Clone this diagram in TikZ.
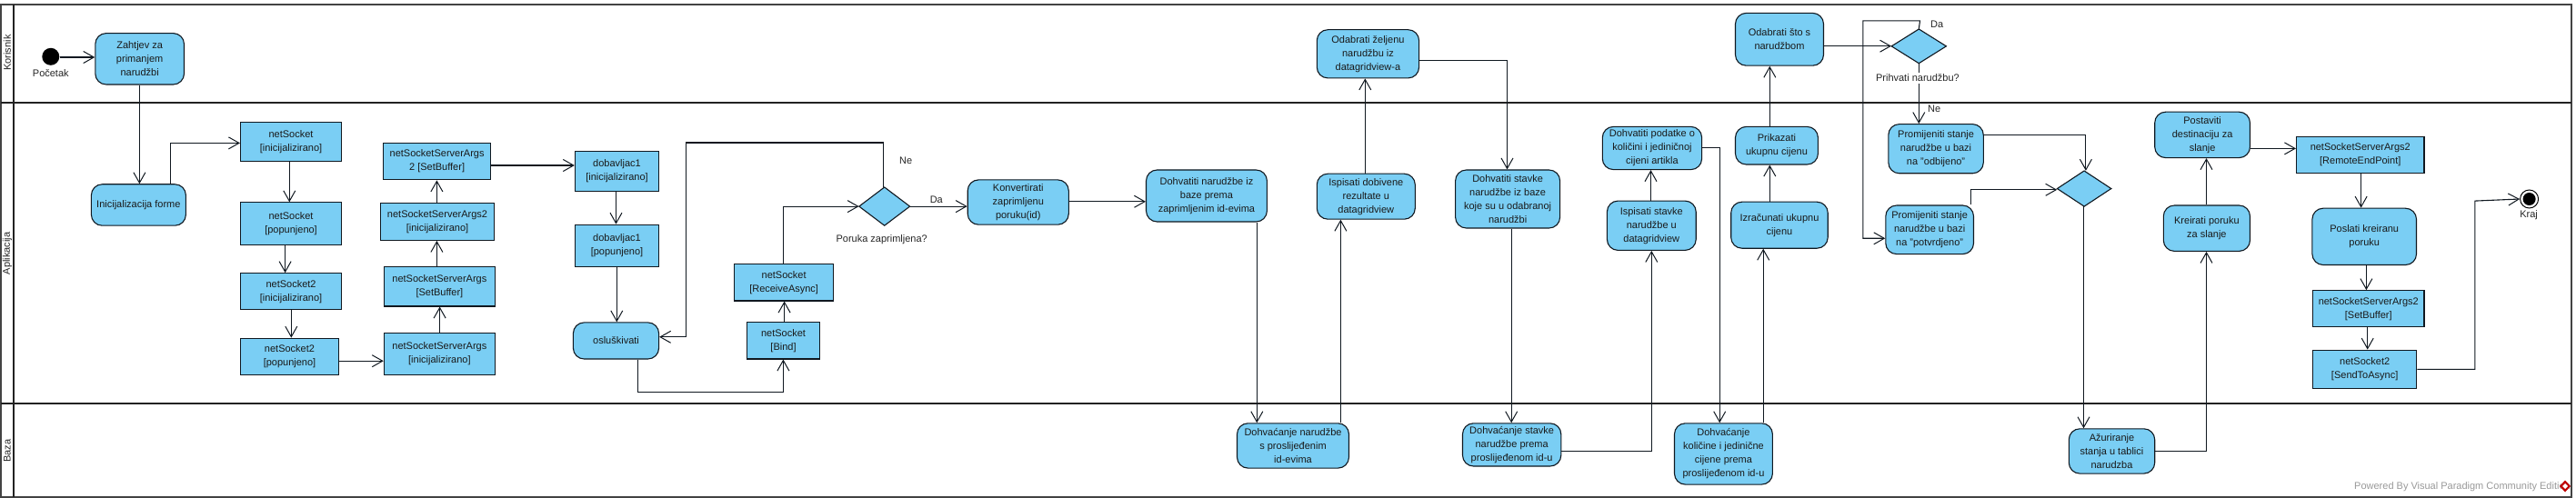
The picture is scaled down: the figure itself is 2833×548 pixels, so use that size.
\documentclass[tikz,border=0pt]{standalone}
\usepackage{fontspec}
\setmainfont{Liberation Sans}
\usetikzlibrary{arrows.meta,shapes.geometric,calc}
\definecolor{actfill}{HTML}{7ACEF4}
\definecolor{lineink}{HTML}{101820}
\definecolor{laneink}{HTML}{222222}
\tikzset{
  lane/.style={draw=laneink,line width=2pt},
  flow/.style={draw=lineink,line width=1.1pt,-{Straight Barb[length=11.5pt,width=13pt,line width=1pt]}},
  act/.style={draw=lineink,line width=1.1pt,fill=actfill,rounded corners=12pt,inner sep=0pt,align=center,font=\fontsize{11}{15}\selectfont,text=black!90},
  objbox/.style={draw=lineink,line width=1.1pt,fill=actfill,inner sep=0pt,align=center,font=\fontsize{11}{15}\selectfont,text=black!90},
  decis/.style={draw=lineink,line width=1.1pt,fill=actfill},
  lbl/.style={inner sep=0pt,font=\fontsize{11}{13}\selectfont,text=black!85},
}
% name, x1, y1, x2, y2, style, text
\newcommand{\boxnode}[7]{\node[#6,minimum width={(#4-#2)*1pt},minimum height={(#5-#3)*1pt}] (#1) at ({(#2+#4)/2},{(#3+#5)/2}) {#7};}
\newcommand{\dianode}[5]{\draw[decis] (#2,{(#3+#5)/2}) -- ({(#2+#4)/2},#3) -- (#4,{(#3+#5)/2}) -- ({(#2+#4)/2},#5) -- cycle;
  \node[inner sep=0pt,minimum width={(#4-#2)*1pt},minimum height={(#5-#3)*1pt}] (#1) at ({(#2+#4)/2},{(#3+#5)/2}) {};}
\begin{document}
\begin{tikzpicture}[x=1pt,y=-1pt]
\useasboundingbox (0,0) rectangle (2833,548);
\fill[white] (0,0) rectangle (2833,548);
% lanes
\coordinate (tl) at (1,4.6);
\coordinate (br) at (2828,546.5);
\draw[lane,laneink!85] (tl) rectangle (br);
\draw[lane] (1,113.4) -- (2828,113.4);
\draw[lane] (1,444.4) -- (2828,444.4);
\draw[lane] (15,4.6) -- (15,546.5);
\node[lbl,rotate=90] (lk) at (8,58) {Korisnik};
\node[lbl,rotate=90] (la) at (8,279) {Aplikacija};
\node[lbl,rotate=90] (lb) at (8,496) {Baza};
% start / end
\node[circle,fill=black,inner sep=0pt,minimum size=19pt] (start) at (55.8,62.3) {};
\node[lbl] (startl) at (55.8,80.6) {Početak};
\node[circle,draw=black,line width=1pt,fill=white,inner sep=0pt,minimum size=20pt] (endo) at (2781.6,219) {};
\node[circle,fill=black,inner sep=0pt,minimum size=14pt] (endi) at (2781.6,219) {};
\node[lbl] (endl) at (2781,237) {Kraj};
% nodes
\boxnode{zahtjev}{104.8}{36.6}{202.5}{93}{act}{Zahtjev za\\primanjem\\narudžbi}
\boxnode{inic}{100.4}{202.8}{204.4}{248.2}{act}{Inicijalizacija forme}
\boxnode{nsa}{264.5}{134.5}{375.6}{177.8}{objbox}{netSocket\\{[inicijalizirano]}}
\boxnode{nsb}{264.5}{222.9}{375.6}{269.7}{objbox}{netSocket\\{[popunjeno]}}
\boxnode{nsc}{264.5}{300.7}{375.6}{340.8}{objbox}{netSocket2\\{[inicijalizirano]}}
\boxnode{nsd}{264.5}{372.2}{372.5}{412.3}{objbox}{netSocket2\\{[popunjeno]}}
\boxnode{ssa}{422.3}{366.2}{544.5}{412.3}{objbox}{netSocketServerArgs\\{[inicijalizirano]}}
\boxnode{ssb}{422.3}{293.7}{544.5}{337}{objbox}{netSocketServerArgs\\{[SetBuffer]}}
\boxnode{ssc}{418.3}{223.9}{543.7}{264.4}{objbox}{netSocketServerArgs2\\{[inicijalizirano]}}
\boxnode{ssd}{421.5}{157.4}{539.7}{197.9}{objbox}{netSocketServerArgs\\2 [SetBuffer]}
\boxnode{doba}{632.4}{166.5}{724.6}{210.2}{objbox}{dobavljac1\\{[inicijalizirano]}}
\boxnode{dobb}{632.4}{247.2}{724.6}{293.7}{objbox}{dobavljac1\\{[popunjeno]}}
\boxnode{osl}{630.4}{354.9}{724.6}{395}{act}{osluškivati}
\boxnode{bind}{821.4}{354.9}{901.7}{395}{objbox}{netSocket\\{[Bind]}}
\boxnode{recv}{807.6}{290.5}{916.7}{331}{objbox}{netSocket\\{[ReceiveAsync]}}
\dianode{dpor}{944.8}{206}{1000.6}{248.2}
\boxnode{konv}{1064.2}{197.9}{1175.3}{247.2}{act}{Konvertirati\\zaprimljenu\\poruku(id)}
\boxnode{dnar}{1260.5}{187}{1393.4}{244}{act}{Dohvatiti narudžbe iz\\baze prema\\zaprimljenim id-evima}
\boxnode{bnar}{1360.5}{465.8}{1483.5}{515.1}{act}{Dohvaćanje narudžbe\\s proslijeđenim\\id-evima}
\boxnode{isd}{1448.3}{191.2}{1556.3}{241.2}{act}{Ispisati dobivene\\rezultate u\\datagridview}
\boxnode{ode}{1448.3}{32.7}{1560.6}{85.9}{act}{Odabrati željenu\\narudžbu iz\\datagridview-a}
\boxnode{dst}{1600.6}{187}{1715.6}{251}{act}{Dohvatiti stavke\\narudžbe iz baze\\koje su u odabranoj\\narudžbi}
\boxnode{bst}{1608.5}{465.8}{1716.8}{513}{act}{Dohvaćanje stavke\\narudžbe prema\\proslijeđenom id-u}
\boxnode{dpo}{1762.3}{139.4}{1871.6}{186.6}{act}{Dohvatiti podatke o\\količini i jediničnoj\\cijeni artikla}
\boxnode{ist}{1767.4}{221.1}{1865.2}{275.4}{act}{Ispisati stavke\\narudžbe u\\datagridview}
\boxnode{ods}{1908.5}{14.4}{2005.5}{72.2}{act}{Odabrati što s\\narudžbom}
\boxnode{pri}{1908.5}{139.4}{1999.4}{181}{act}{Prikazati\\ukupnu cijenu}
\boxnode{izr}{1903.7}{222.2}{2010.2}{273.2}{act}{Izračunati ukupnu\\cijenu}
\boxnode{bko}{1841.5}{465.8}{1949.4}{533.1}{act}{Dohvaćanje\\količine i jedinične\\cijene prema\\proslijeđenom id-u}
\dianode{dpr}{2080.2}{32}{2140.4}{69.7}
\boxnode{pod}{2076.8}{136.6}{2181.3}{190.8}{act}{Promijeniti stanje\\narudžbe u bazi\\na "odbijeno"}
\boxnode{ppo}{2073.8}{226}{2170.5}{279.6}{act}{Promijeniti stanje\\narudžbe u bazi\\na "potvrdjeno"}
\dianode{dme}{2262.4}{188}{2321.8}{227.1}
\boxnode{azu}{2275.3}{471.8}{2369.7}{521.1}{act}{Ažuriranje\\stanja u tablici\\narudzba}
\boxnode{pos}{2369.7}{123.2}{2474.5}{173.6}{act}{Postaviti\\destinaciju za\\slanje}
\boxnode{kre}{2379.3}{226}{2474.5}{276.4}{act}{Kreirati poruku\\za slanje}
\boxnode{rem}{2525.5}{150.4}{2666}{190.8}{objbox}{netSocketServerArgs2\\{[RemoteEndPoint]}}
\boxnode{psl}{2542.9}{229.2}{2657.5}{291.5}{act}{Poslati kreiranu\\poruku}
\boxnode{sse}{2543.5}{319.7}{2666}{359.9}{objbox}{netSocketServerArgs2\\{[SetBuffer]}}
\boxnode{snd}{2543.5}{385.2}{2657.8}{427.5}{objbox}{netSocket2\\{[SendToAsync]}}
% connectors
\draw[flow] (start.east |- 0,63) -- (zahtjev.west |- 0,63);
\draw[flow] (153.4,0 |- zahtjev.south) -- (153.4,0 |- inic.north);
\draw[flow] (187.4,0 |- inic.north) |- (nsa.west |- 0,157.4);
\draw[flow] (318.3,0 |- nsa.south) -- (318.3,0 |- nsb.north);
\draw[flow] (313.6,0 |- nsb.south) -- (313.6,0 |- nsc.north);
\draw[flow] (320.3,0 |- nsc.south) -- (320.3,0 |- nsd.north);
\draw[flow] (nsd.east |- 0,397.2) -- (ssa.west |- 0,397.2);
\draw[flow] (483.6,0 |- ssa.north) -- (483.6,0 |- ssb.south);
\draw[flow] (480.4,0 |- ssb.north) -- (480.4,0 |- ssc.south);
\draw[flow] (480.4,0 |- ssc.north) -- (480.4,0 |- ssd.south);
\draw[flow] (ssd.east |- 0,182) -- (doba.west |- 0,182);
\draw[flow] (677.5,0 |- doba.south) -- (677.5,0 |- dobb.north);
\draw[flow] (678.3,0 |- dobb.south) -- (678.3,0 |- osl.north);
\draw[flow] (701.6,0 |- osl.south) |- (861.4,431.3) -- (861.4,0 |- bind.south);
\draw[flow] (862.6,0 |- bind.north) -- (862.6,0 |- recv.south);
\draw[flow] (861.4,0 |- recv.north) |- (dpor.west);
\draw[flow] (971.7,0 |- dpor.north) |- (754.2,157) |- (osl.east |- 0,370.8);
\draw[flow] (dpor.east) -- (konv.west |- dpor.east);
\draw[flow] (konv.east |- 0,221.8) -- (dnar.west |- 0,221.8);
\draw[flow] (1382.3,0 |- dnar.south) -- (1382.3,0 |- bnar.north);
\draw[flow] (1474.4,0 |- bnar.north) -- (1474.4,0 |- isd.south);
\draw[flow] (1501.3,0 |- isd.north) -- (1501.3,0 |- ode.south);
\draw[flow] (ode.east |- 0,66.9) -| (1657.5,0 |- dst.north);
\draw[flow] (1662.2,0 |- dst.south) -- (1662.2,0 |- bst.north);
\draw[flow] (bst.east |- 0,496.1) -| (1816.3,0 |- ist.south);
\draw[flow] (1815.5,0 |- ist.north) -- (1815.5,0 |- dpo.south);
\draw[flow] (dpo.east |- 0,162.7) -| (1891.2,0 |- bko.north);
\draw[flow] (1939.2,0 |- bko.north) -- (1939.2,0 |- izr.south);
\draw[flow] (1946.3,0 |- izr.north) -- (1946.3,0 |- pri.south);
\draw[flow] (1946.3,0 |- pri.north) -- (1946.3,0 |- ods.south);
\draw[flow] (ods.east |- 0,50.7) -- (dpr.west |- 0,50.7);
\draw[flow] (dpr.north) -- (2111.5,22.9) -| (2048.8,262.3) -- (ppo.west |- 0,262.3);
\draw[flow] (2110.3,0 |- dpr.south) -- (2110.3,0 |- pod.north);
\draw[flow] (pod.east |- 0,148.2) -| (2293.9,0 |- dme.north);
\draw[flow] (2167.4,0 |- ppo.north) |- (dme.west |- 0,208.8);
\draw[flow] (2291.5,0 |- dme.south) -- (2291.5,0 |- azu.north);
\draw[flow] (azu.east |- 0,496.1) -| (2426.5,0 |- kre.south);
\draw[flow] (2426.5,0 |- kre.north) -- (2426.5,0 |- pos.south);
\draw[flow] (pos.east |- 0,163.4) -- (rem.west |- 0,163.4);
\draw[flow] (2596.6,0 |- rem.south) -- (2596.6,0 |- psl.north);
\draw[flow] (2602.4,0 |- psl.south) -- (2602.4,0 |- sse.north);
\draw[flow] (2603.7,0 |- sse.south) -- (2603.7,0 |- snd.north);
\draw[flow] (snd.east |- 0,406.3) -| (2721.8,221.1) -- (endo.west);
% labels
\node[lbl,fill=white,inner ysep=1pt] (lpor) at (969.7,264.1) {Poruka zaprimljena?};
\node[lbl] (lne) at (996.2,176.4) {Ne};
\node[lbl] (lda) at (1029.8,219.7) {Da};
\node[lbl,fill=white,inner ysep=2pt] (lpr) at (2108.9,85.9) {Prihvati narudžbu?};
\node[lbl] (lda2) at (2130.2,26.4) {Da};
\node[lbl] (lne2) at (2127.2,120) {Ne};
\node[lbl,text=black!40,anchor=west] (vp) at (2589,535.5) {Powered By\hspace{3pt}Visual Paradigm Community Edition};
% logo
\fill[red!75!black] (2821,528.5) -- (2827,535) -- (2821,541.5) -- (2815,535) -- cycle;
\fill[white] (2821,532) -- (2824,535) -- (2821,538) -- (2818,535) -- cycle;
\end{tikzpicture}
\end{document}
